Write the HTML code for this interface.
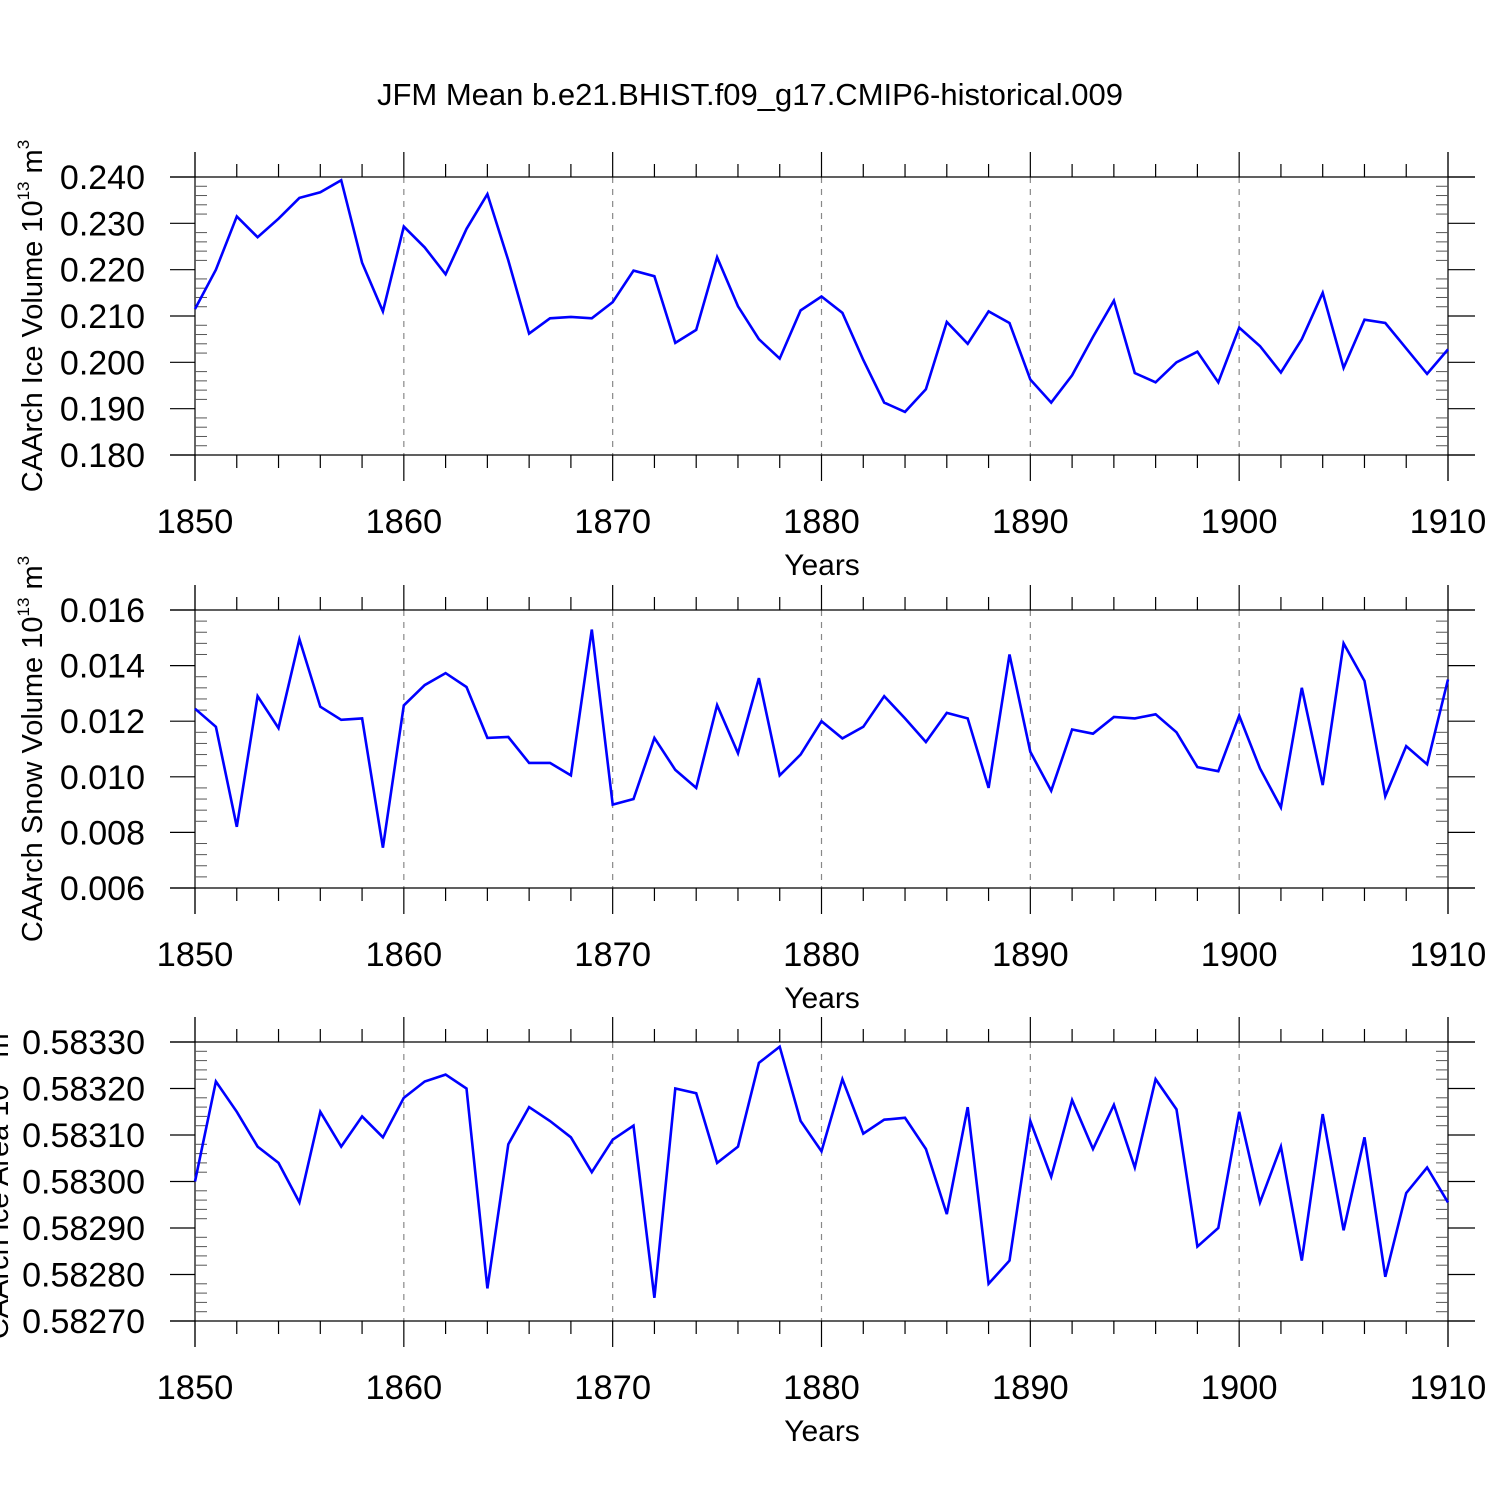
<!DOCTYPE html>
<html><head><meta charset="utf-8"><style>
html,body{margin:0;padding:0;background:#fff;}
svg{display:block;font-family:"Liberation Sans",sans-serif;}
</style></head><body>
<svg id="chart" width="1500" height="1500" viewBox="0 0 1500 1500" xmlns="http://www.w3.org/2000/svg">
<rect width="1500" height="1500" fill="#fff"/>
<text x="750" y="105" font-size="31" text-anchor="middle">JFM Mean b.e21.BHIST.f09_g17.CMIP6-historical.009</text>
</svg>
<script>
const years = [];
for (let y = 1850; y <= 1910; y++) years.push(y);
const xTicks = [1850, 1860, 1870, 1880, 1890, 1900, 1910];
const iceVolume = [0.2115,0.220,0.2315,0.227,0.231,0.2355,0.2367,0.2393,0.2215,0.211,0.2293,0.2248,0.219,0.2288,0.2363,0.222,0.2062,0.2095,0.2098,0.2095,0.213,0.2198,0.2186,0.2042,0.207,0.2227,0.2121,0.205,0.2008,0.2112,0.2142,0.2107,0.2005,0.1913,0.1893,0.1942,0.2087,0.204,0.211,0.2085,0.1963,0.1913,0.1972,0.2055,0.2133,0.1977,0.1957,0.200,0.2023,0.1957,0.2075,0.2035,0.1978,0.205,0.215,0.1988,0.2092,0.2085,0.203,0.1975,0.2028];
const snowVolume = [0.01245,0.0118,0.0082,0.0129,0.01175,0.01495,0.01252,0.01205,0.0121,0.00745,0.01257,0.0133,0.01373,0.01323,0.0114,0.01143,0.0105,0.0105,0.01005,0.0153,0.009,0.0092,0.0114,0.01025,0.0096,0.01258,0.01085,0.01355,0.01005,0.0108,0.0120,0.01138,0.0118,0.0129,0.0121,0.01125,0.0123,0.0121,0.0096,0.0144,0.0109,0.0095,0.0117,0.01155,0.01215,0.0121,0.01225,0.0116,0.01035,0.0102,0.0122,0.0103,0.0089,0.0132,0.0097,0.0148,0.01345,0.0093,0.0111,0.01045,0.0135];
const iceArea = [0.58300,0.583215,0.58315,0.583075,0.58304,0.582955,0.58315,0.583075,0.58314,0.583095,0.58318,0.583215,0.58323,0.58320,0.58277,0.58308,0.58316,0.58313,0.583095,0.58302,0.58309,0.58312,0.58275,0.58320,0.58319,0.58304,0.583075,0.583255,0.58329,0.58313,0.583065,0.58322,0.583103,0.583133,0.583137,0.58307,0.58293,0.58316,0.58278,0.58283,0.58313,0.58301,0.583175,0.58307,0.583165,0.58303,0.58322,0.583155,0.58286,0.58290,0.58315,0.582955,0.583075,0.58283,0.583145,0.582895,0.583095,0.582795,0.582975,0.58303,0.582955];
const iceTicks = [0.180,0.190,0.200,0.210,0.220,0.230,0.240];
const snowTicks = [0.006,0.008,0.010,0.012,0.014,0.016];
const areaTicks = [0.58270,0.58280,0.58290,0.58300,0.58310,0.58320,0.58330];

const NS = "http://www.w3.org/2000/svg";
const svg = document.getElementById('chart');
function mk(tag, attrs, parent) {
  const e = document.createElementNS(NS, tag);
  for (const k in attrs) e.setAttribute(k, attrs[k]);
  (parent || svg).appendChild(e);
  return e;
}
const X0 = 195, X1 = 1448;
function xs(v) { return X0 + (v - 1850) / 60 * (X1 - X0); }

const panels = [
  {name:'ice-volume', top:177, bottom:455, data:iceVolume, ticks:iceTicks, dec:3, minorN:5, label:'CAArch Ice Volume 10', unit:'3', lx:32},
  {name:'snow-volume', top:610, bottom:888, data:snowVolume, ticks:snowTicks, dec:3, minorN:5, label:'CAArch Snow Volume 10', unit:'3', lx:32},
  {name:'ice-area', top:1042, bottom:1321, data:iceArea, ticks:areaTicks, dec:5, minorN:5, label:'CAArch Ice Area 10', unit:'2', lx:-2}
];

panels.forEach(p => {
  const g = mk('g', {});
  
  
  const vmin = p.ticks[0], vmax = p.ticks[p.ticks.length - 1];
  const ys = v => p.bottom - (v - vmin) / (vmax - vmin) * (p.bottom - p.top);
  const st = {stroke:'#000', 'stroke-width':1.2};
  xTicks.slice(1, -1).forEach(t => {
    const l = mk('line', {x1:xs(t), x2:xs(t), y1:p.top, y2:p.bottom, stroke:'#888', 'stroke-width':1.2, 'stroke-dasharray':'6,6'}, g);
    
    
  });
  mk('line', Object.assign({x1:170, x2:1475, y1:p.top, y2:p.top}, st), g);
  mk('line', Object.assign({x1:170, x2:1475, y1:p.bottom, y2:p.bottom}, st), g);
  mk('line', Object.assign({x1:X0, x2:X0, y1:p.top - 25, y2:p.bottom + 26}, st), g);
  mk('line', Object.assign({x1:X1, x2:X1, y1:p.top - 25, y2:p.bottom + 26}, st), g);
  xTicks.forEach(t => {
    mk('line', Object.assign({x1:xs(t), x2:xs(t), y1:p.top - 25, y2:p.top}, st), g);
    mk('line', Object.assign({x1:xs(t), x2:xs(t), y1:p.bottom, y2:p.bottom + 26}, st), g);
    const tx = mk('text', {x:xs(t), y:p.bottom + 78, 'font-size':34.5, 'text-anchor':'middle'}, g);
    
    
    tx.textContent = t;
  });
  for (let y = 1852; y < 1910; y += 2) {
    if (y % 10 === 0) continue;
    mk('line', Object.assign({x1:xs(y), x2:xs(y), y1:p.top - 13, y2:p.top}, st), g);
    mk('line', Object.assign({x1:xs(y), x2:xs(y), y1:p.bottom, y2:p.bottom + 13}, st), g);
  }
  const step = (vmax - vmin) / (p.ticks.length - 1);
  p.ticks.forEach((t, i) => {
    const y = ys(t);
    mk('line', Object.assign({x1:170, x2:X0, y1:y, y2:y}, st), g);
    mk('line', Object.assign({x1:X1, x2:1475, y1:y, y2:y}, st), g);
    const tx = mk('text', {x:145, y:y + 12, 'font-size':34, 'text-anchor':'end'}, g);
    
    
    tx.textContent = t.toFixed(p.dec);
    if (i < p.ticks.length - 1) {
      for (let k = 1; k < p.minorN; k++) {
        const ym = ys(t + step * k / p.minorN);
        mk('line', {x1:X0, x2:X0 + 12, y1:ym, y2:ym, stroke:'#555', 'stroke-width':1}, g);
        mk('line', {x1:X1 - 12, x2:X1, y1:ym, y2:ym, stroke:'#555', 'stroke-width':1}, g);
      }
    }
  });
  const pts = p.data.map((v, i) => xs(years[i]).toFixed(1) + ',' + ys(v).toFixed(1)).join(' ');
  const pl = mk('polyline', {points:pts, fill:'none', stroke:'#0000ff', 'stroke-width':2.6, 'stroke-linejoin':'miter'}, g);
  
  
  const xt = mk('text', {x:822, y:p.bottom + 120, 'font-size':30, 'text-anchor':'middle'}, g);
  
  
  xt.textContent = 'Years';
  const cy = (p.top + p.bottom) / 2;
  const yt = mk('text', {x:0, y:0, 'font-size':29, 'text-anchor':'middle', transform:'translate(' + (p.lx + 10) + ',' + cy + ') rotate(-90)'}, g);
  
  
  yt.appendChild(document.createTextNode(p.label));
  const s1 = mk('tspan', {'font-size':17, dy:-13}, yt); s1.textContent = '13';
  const s2 = mk('tspan', {dy:13}, yt); s2.textContent = ' m';
  const s3 = mk('tspan', {'font-size':17, dy:-13}, yt); s3.textContent = p.unit;
});
</script>
</body></html>
